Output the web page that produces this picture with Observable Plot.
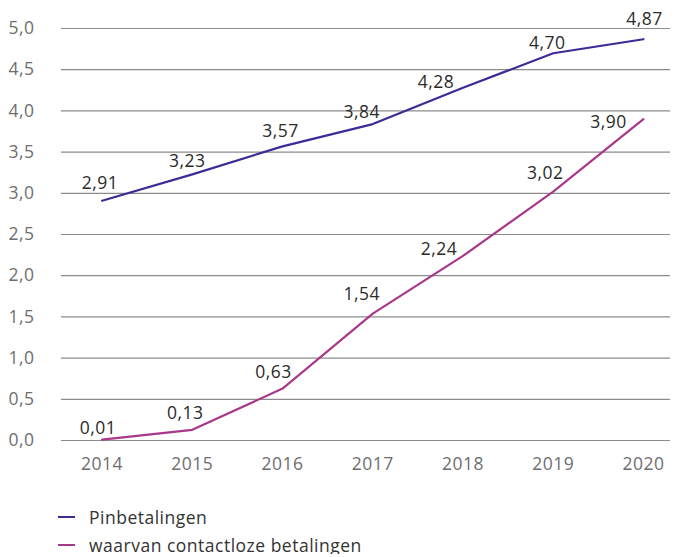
<!DOCTYPE html>
<html>
<head>
<meta charset="utf-8">
<script src="https://cdn.jsdelivr.net/npm/d3@7"></script>
<script src="https://cdn.jsdelivr.net/npm/@observablehq/plot@0.6"></script>
<style>
  body { margin: 0; background: #fff; font-family: "Open Sans", sans-serif; overflow: hidden; }
  #chart svg { display: block; }
  .legend { padding-top: 18px; padding-left: 58px; font-size: 17.5px; letter-spacing: 0.5px; color: #333; }
  .legend .item { height: 18px; line-height: 18px; display: flex; align-items: center; }
  .legend .item + .item { margin-top: 10px; }
  .legend .sw { width: 17px; height: 2px; margin-right: 14px; }
</style>
</head>
<body>
<div id="chart"></div>
<script>
const years = [2014, 2015, 2016, 2017, 2018, 2019, 2020];
const pinValues = [2.91, 3.23, 3.57, 3.84, 4.28, 4.70, 4.87];
const contactlessValues = [0.01, 0.13, 0.63, 1.54, 2.24, 3.02, 3.90];
const seriesNames = ["Pinbetalingen", "waarvan contactloze betalingen"];
const yTicks = [0, 0.5, 1, 1.5, 2, 2.5, 3, 3.5, 4, 4.5, 5];

const colors = ["#3f2a98", "#a8388a"];
// label placement (style): offsets in px per point
const labelOffsets = [
  [[-2,-17],[-5,-13],[-2,-15],[-11,-12],[-27,-5],[-6,-10],[1,-20]],
  [[-4,-11],[-7,-16],[-9,-16],[-11,-19],[-24,-7],[-8,-18],[-35,3]]
];

const nl = d3.formatLocale({decimal: ",", thousands: ".", grouping: [3], currency: ["€", ""]});
const f2 = nl.format(".2f");
const f1 = nl.format(".1f");

const rows = [];
[pinValues, contactlessValues].forEach((vals, s) => {
  vals.forEach((v, i) => rows.push({series: seriesNames[s], s, year: years[i], value: v,
    dx: labelOffsets[s][i][0], dy: labelOffsets[s][i][1]}));
});

const labelMarks = rows.map(r => Plot.text([r], {
  x: "year", y: "value", text: d => f2(d.value),
  dx: r.dx, dy: r.dy, fill: "#2b2b2b", fontSize: 17.5
}));

const chart = Plot.plot({
  width: 680,
  height: 490,
  marginTop: 28,
  marginBottom: 50,
  marginLeft: 61,
  marginRight: 10,
  style: {fontFamily: "'Open Sans', sans-serif", fontSize: "17.5px", letterSpacing: "0.5px", color: "#6e6e6e", background: "#fff"},
  x: {domain: [2013.55, 2020.3], ticks: years, tickFormat: d => String(d), tickSize: 0, tickPadding: 17, label: null},
  y: {domain: [0, 5], ticks: yTicks, tickFormat: f1, tickSize: 0, tickPadding: 27, label: null},
  color: {domain: seriesNames, range: colors},
  marks: [
    Plot.ruleY(yTicks, {stroke: "#8c8c8c", strokeWidth: 1.2}),
    Plot.axisX({ticks: years, tickFormat: d => String(d), tickSize: 0, tickPadding: 17, fill: "#6e6e6e", label: null}),
    Plot.axisY({ticks: yTicks, tickFormat: f1, tickSize: 0, tickPadding: 27, fill: "#6e6e6e", label: null}),
    Plot.line(rows, {x: "year", y: "value", z: "series", stroke: "series", strokeWidth: 2.2}),
    ...labelMarks
  ]
});
document.getElementById("chart").appendChild(chart);

const legend = document.createElement("div");
legend.className = "legend";
seriesNames.forEach((name, i) => {
  const item = document.createElement("div");
  item.className = "item";
  const sw = document.createElement("span");
  sw.className = "sw";
  sw.style.background = colors[i];
  const t = document.createElement("span");
  t.textContent = name;
  item.appendChild(sw); item.appendChild(t);
  legend.appendChild(item);
});
document.body.appendChild(legend);
</script>
</body>
</html>
